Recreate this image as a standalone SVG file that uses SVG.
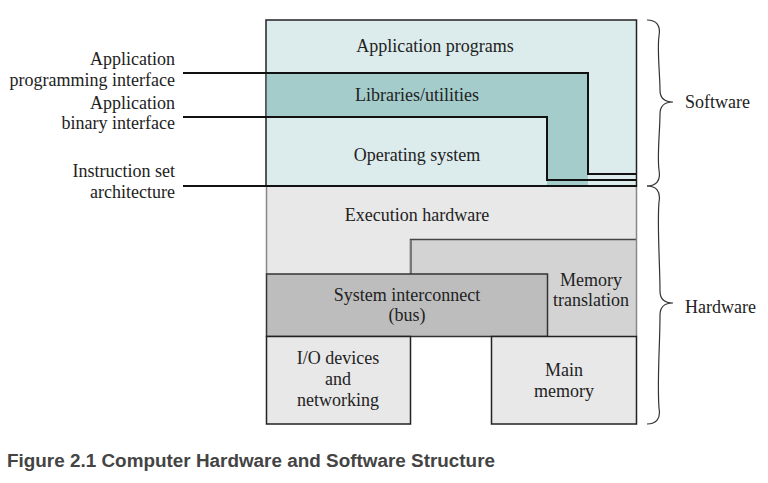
<svg xmlns="http://www.w3.org/2000/svg" width="768" height="483" viewBox="0 0 768 483">
<style>
.t{font-family:"Liberation Serif","Times New Roman",serif;font-size:18px;fill:#222;}
.m{text-anchor:middle;}
.e{text-anchor:end;}
.ln{fill:none;stroke:#111;stroke-width:2;}
.br{fill:none;stroke:#333;stroke-width:1.2;}
.cap{font-family:"Liberation Sans",Arial,sans-serif;font-size:18px;font-weight:bold;fill:#444;}
</style>
<rect width="768" height="483" fill="#fff"/>
<g id="software">
<rect x="266" y="20" width="370.5" height="166" fill="#dcecec" stroke="#222" stroke-width="1.5"/>
</g>
<g id="libraries">
<path d="M266.8,73 H588 V185 H547 V117 H266.8 Z" fill="#a3cccb"/>
</g>
<g id="application-programs">
<text class="t m" x="435" y="52">Application programs</text>
</g>
<g id="libraries-label">
<text class="t m" x="417" y="101">Libraries/utilities</text>
</g>
<g id="operating-system">
<text class="t m" x="417" y="161">Operating system</text>
</g>
<g id="execution-hardware">
<rect x="266.5" y="186" width="370" height="88" fill="#e8e8e8"/>
<path d="M266.5,186 V274 M636.5,186 V239" stroke="#888" stroke-width="1.5" fill="none"/>
<text class="t m" x="417" y="221">Execution hardware</text>
</g>
<g id="memory-translation">
<rect x="410.5" y="239" width="226" height="97.5" fill="#d3d3d3"/>
<path d="M410.5,274 V239.5 H636.5" stroke="#444" stroke-width="1.5" fill="none"/>
<path d="M411,240 V274" stroke="#777" stroke-width="2" fill="none"/>
<path d="M636.5,239 V336.5" stroke="#888" stroke-width="1.5" fill="none"/>
<text class="t m" x="591" y="286">Memory</text>
<text class="t m" x="591" y="306">translation</text>
</g>
<g id="system-interconnect">
<rect x="266.5" y="274" width="281" height="62.5" fill="#bdbdbd" stroke="#333" stroke-width="1.5"/>
<text class="t m" x="407" y="301">System interconnect</text>
<text class="t m" x="407" y="321">(bus)</text>
</g>
<g id="io-devices">
<rect x="266.5" y="336.5" width="144" height="87.5" fill="#e8e8e8" stroke="#222" stroke-width="1.5"/>
<text class="t m" x="338" y="364">I/O devices</text>
<text class="t m" x="338" y="385">and</text>
<text class="t m" x="338" y="406">networking</text>
</g>
<g id="main-memory">
<rect x="491.5" y="336.5" width="145" height="87.5" fill="#e8e8e8" stroke="#222" stroke-width="1.5"/>
<text class="t m" x="564" y="376">Main</text>
<text class="t m" x="564" y="397">memory</text>
</g>
<g id="connectors">
<path class="ln" d="M183,73 H588 V174 H636"/>
<path class="ln" d="M183,117 H547 V180 H636"/>
<path class="ln" d="M183,186 H637"/>
</g>
<g id="interface-labels">
<text class="t e" x="175" y="65">Application</text>
<text class="t e" x="175" y="86">programming interface</text>
<text class="t e" x="175" y="109">Application</text>
<text class="t e" x="175" y="129">binary interface</text>
<text class="t e" x="175" y="177">Instruction set</text>
<text class="t e" x="175" y="198">architecture</text>
</g>
<g id="software-brace">
<path class="br" d="M647,20 C656,20 661,25 659,36 C657,50 660,75 660,90 C660,98 665,102 673,102 C665,102 660,106 660,114 C660,130 657,155 659,170 C661,181 656,186 647,186"/>
<text class="t" x="685" y="108">Software</text>
</g>
<g id="hardware-brace">
<path class="br" d="M647,186 C656,186 661,191 659,202 C657,225 660,265 660,291 C660,299 665,303 673,303 C665,303 660,307 660,315 C660,345 657,380 659,408 C661,419 656,424 647,424"/>
<text class="t" x="685" y="313">Hardware</text>
</g>
<g id="caption">
<text class="cap" x="7" y="467" textLength="488" lengthAdjust="spacingAndGlyphs">Figure 2.1 Computer Hardware and Software Structure</text>
</g>
</svg>
